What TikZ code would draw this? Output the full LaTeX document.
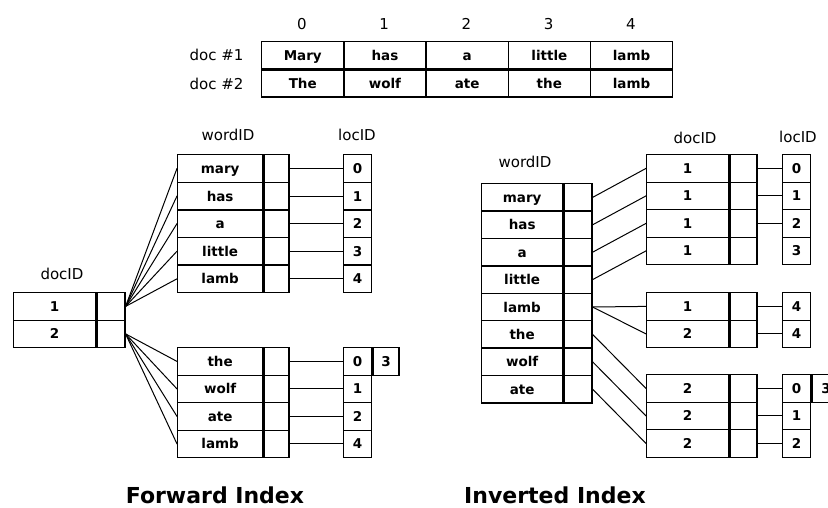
\documentclass[tikz,border=0pt]{standalone}
\usepackage{fontspec}
\setmainfont{DejaVu Sans}
\usetikzlibrary{positioning}

\begin{document}
\begin{tikzpicture}[x=1pt,y=-1pt,line cap=round,
  cell/.style={draw,line width=1.3pt,anchor=north west,inner sep=0pt,
    minimum height=27.5pt,text height=11pt,text depth=1pt,
    font=\fontsize{13.5}{16}\selectfont\bfseries},
  link/.style={line width=1pt},
  lbl/.style={font=\fontsize{15}{18}\selectfont},
  ttl/.style={inner sep=0pt,font=\fontsize{22}{26}\selectfont\bfseries}]
\useasboundingbox (0,0) rectangle (828,507);

% the two documents
\foreach \a/\b [count=\i from 0] in {Mary/The,has/wolf,a/ate,little/the,lamb/lamb} {
  \node[cell,minimum width=82.2pt,minimum height=27pt] (doca\i) at (261+82.2*\i,41) {\a};
  \node[cell,minimum width=82.2pt,minimum height=27pt] (docb\i) at (doca\i.south west) {\b};
  \node[lbl] (pos\i) at (302+82.2*\i,24) {\i};
}
\node[lbl,left=14pt of doca0] (rowa) {doc \#1};
\node[lbl,left=14pt of docb0] (rowb) {doc \#2};

% forward index
\node[lbl] (fwid) at (228,135) {wordID};
\node[lbl] (flid) at (357,135) {locID};
\node[lbl] (fdid) at (62,274) {docID};
\foreach \d [count=\i from 0] in {1,2} {
  \node[cell,minimum width=82pt] (fd\i) at (13,292+27.5*\i) {\d};
  \node[cell,minimum width=28pt] (fdp\i) at (fd\i.north east) {};
}
\foreach \w [count=\i from 0] in {mary,has,a,little,lamb} {
  \node[cell,minimum width=85pt] (fa\i) at (177,154+27.6*\i) {\w};
  \node[cell,minimum width=25pt] (fap\i) at (fa\i.north east) {};
  \node[cell,minimum width=28pt] (fal\i) at (343,154+27.6*\i) {\i};
  \draw[link] (fap\i.east) -- (fal\i.west);
  \draw[link] (fdp0.east) -- (fa\i.west);
}
\foreach \w/\l [count=\i from 0] in {the/0,wolf/1,ate/2,lamb/4} {
  \node[cell,minimum width=85pt] (fb\i) at (177,347+27.5*\i) {\w};
  \node[cell,minimum width=25pt] (fbp\i) at (fb\i.north east) {};
  \node[cell,minimum width=28pt] (fbl\i) at (343,347+27.5*\i) {\l};
  \draw[link] (fbp\i.east) -- (fbl\i.west);
  \draw[link] (fdp1.east) -- (fb\i.west);
}
\node[cell,minimum width=26pt] (fbx) at (fbl0.north east) {3};
\node[ttl] (fwd) at (215,495) {Forward Index};

% inverted index
\node[lbl] (iwid) at (525,162) {wordID};
\node[lbl] (idid) at (695,138) {docID};
\node[lbl] (ilid) at (798,137) {locID};
\foreach \w [count=\i from 0] in {mary,has,a,little,lamb,the,wolf,ate} {
  \node[cell,minimum width=81pt] (iw\i) at (481,183+27.4*\i) {\w};
  \node[cell,minimum width=28pt] (iwp\i) at (iw\i.north east) {};
}
\foreach \d/\l [count=\i from 0] in {1/0,1/1,1/2,1/3} {
  \node[cell,minimum width=82pt] (ia\i) at (646,154+27.5*\i) {\d};
  \node[cell,minimum width=27pt] (iap\i) at (ia\i.north east) {};
  \node[cell,minimum width=28pt] (ial\i) at (782,154+27.5*\i) {\l};
  \draw[link] (iwp\i.east) -- (ia\i.west);
}
\foreach \i in {0,1,2} \draw[link] (iap\i.east) -- (ial\i.west);
\foreach \d/\l [count=\i from 0] in {1/4,2/4} {
  \node[cell,minimum width=82pt] (ib\i) at (646,292+27.5*\i) {\d};
  \node[cell,minimum width=27pt] (ibp\i) at (ib\i.north east) {};
  \node[cell,minimum width=28pt] (ibl\i) at (782,292+27.5*\i) {\l};
  \draw[link] (ibp\i.east) -- (ibl\i.west);
  \draw[link] (iwp4.east) -- (ib\i.west);
}
\foreach \d/\l [count=\i from 0] in {2/0,2/1,2/2} {
  \node[cell,minimum width=82pt] (ic\i) at (646,374+27.5*\i) {\d};
  \node[cell,minimum width=27pt] (icp\i) at (ic\i.north east) {};
  \node[cell,minimum width=28pt] (icl\i) at (782,374+27.5*\i) {\l};
  \draw[link] (icp\i.east) -- (icl\i.west);
}
\node[cell,minimum width=28pt] (icx) at (icl0.north east) {3};
\draw[link] (iwp5.east) -- (ic0.west);
\draw[link] (iwp6.east) -- (ic1.west);
\draw[link] (iwp7.east) -- (ic2.west);
\node[ttl] (inv) at (555,495) {Inverted Index};
\end{tikzpicture}
\end{document}
